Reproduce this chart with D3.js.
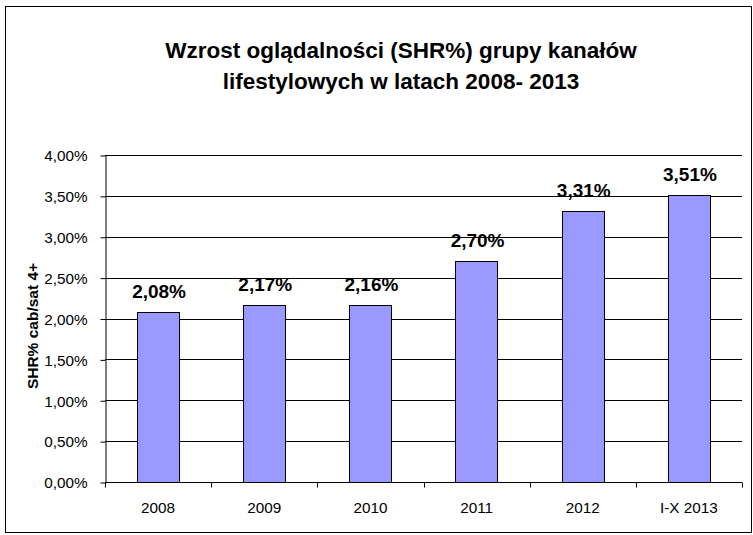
<!DOCTYPE html>
<html><head><meta charset="utf-8">
<script src="https://cdn.jsdelivr.net/npm/d3@7"></script>
<style>body{margin:0;background:#fff}svg{display:block}</style>
</head><body>
<svg id="c" width="753" height="535"></svg>
<script>
const categories = ["2008","2009","2010","2011","2012","I-X 2013"];
const values = [2.08, 2.17, 2.16, 2.70, 3.31, 3.51];
const yTicks = [0,0.5,1,1.5,2,2.5,3,3.5,4];
const titleLines = ["Wzrost oglądalności (SHR%) grupy kanałów","lifestylowych w latach 2008- 2013"];
const yAxisTitle = "SHR% cab/sat 4+";

const svg = d3.select("#c");
const F = "Arial, 'Liberation Sans', sans-serif";
svg.append("rect").attr("x",5.5).attr("y",6.5).attr("width",746).attr("height",526)
  .attr("fill","#fff").attr("stroke","#000").attr("stroke-width",1);

const L=105, R=742, T=155, B=482;
const x = d3.scaleBand().domain(categories).range([L,R]).paddingInner(0.6).paddingOuter(0.3);
const xb = d3.scaleBand().domain(categories).range([L,R]);
const y = d3.scaleLinear().domain([0,4]).range([B,T]);
const fmt = v => d3.format(".2f")(v).replace(".",",") + "%";

// grid
svg.append("g").selectAll("line").data(yTicks.filter(d=>d>0)).join("line")
  .attr("x1",L).attr("x2",R).attr("y1",d=>Math.round(y(d))+0.5).attr("y2",d=>Math.round(y(d))+0.5)
  .attr("stroke","#000").attr("stroke-width",1);

// y axis
const ya = svg.append("g").attr("transform",`translate(${L+0.5},0.5)`)
  .call(d3.axisLeft(y).tickValues(yTicks).tickFormat(fmt).tickSize(5).tickPadding(13).tickSizeOuter(0));
ya.selectAll("text").attr("font-family",F).attr("font-size",15.3).attr("fill","#000").attr("dy","0.35em");
ya.select(".domain").attr("stroke","#000");
ya.selectAll(".tick line").attr("stroke","#000");

// x axis
const xa = svg.append("g").attr("transform",`translate(0,${B+0.5})`)
  .call(d3.axisBottom(xb).tickSize(0).tickPadding(0).tickSizeOuter(0));
xa.select(".domain").attr("stroke","#000").attr("d",`M${L},0H${R}`);
xa.selectAll("text").attr("font-family",F).attr("font-size",15.3).attr("fill","#000").attr("dy",null).attr("y",30);
xa.selectAll("line.bnd").data(categories.map(c=>xb(c)).concat([R])).join("line").attr("class","bnd")
  .attr("x1",d=>Math.round(d)+0.5).attr("x2",d=>Math.round(d)+0.5).attr("y1",0).attr("y2",5).attr("stroke","#000");

// bars
svg.append("g").selectAll("rect").data(values).join("rect")
  .attr("x",(d,i)=>Math.round(x(categories[i]))+0.5)
  .attr("width",Math.round(x.bandwidth()))
  .attr("y",d=>Math.round(y(d))+0.5)
  .attr("height",d=>B-Math.round(y(d)))
  .attr("fill","#9999FF").attr("stroke","#000").attr("stroke-width",1);

// labels
svg.append("g").selectAll("text").data(values).join("text")
  .attr("x",(d,i)=>x(categories[i])+x.bandwidth()/2+1)
  .attr("y",d=>y(d)-14)
  .attr("text-anchor","middle").attr("font-family",F).attr("font-weight","bold").attr("font-size",19)
  .attr("fill","#000").text(fmt);

// title
svg.append("g").selectAll("text").data(titleLines).join("text")
  .attr("x",401).attr("y",(d,i)=>58+i*31)
  .attr("text-anchor","middle").attr("font-family",F).attr("font-weight","bold").attr("font-size",22.5)
  .attr("fill","#000").text(d=>d);

// y axis title
svg.append("text").attr("transform","translate(38,326) rotate(-90)")
  .attr("text-anchor","middle").attr("font-family",F).attr("font-weight","bold").attr("font-size",15.5)
  .attr("fill","#000").text(yAxisTitle);
</script>
</body></html>
